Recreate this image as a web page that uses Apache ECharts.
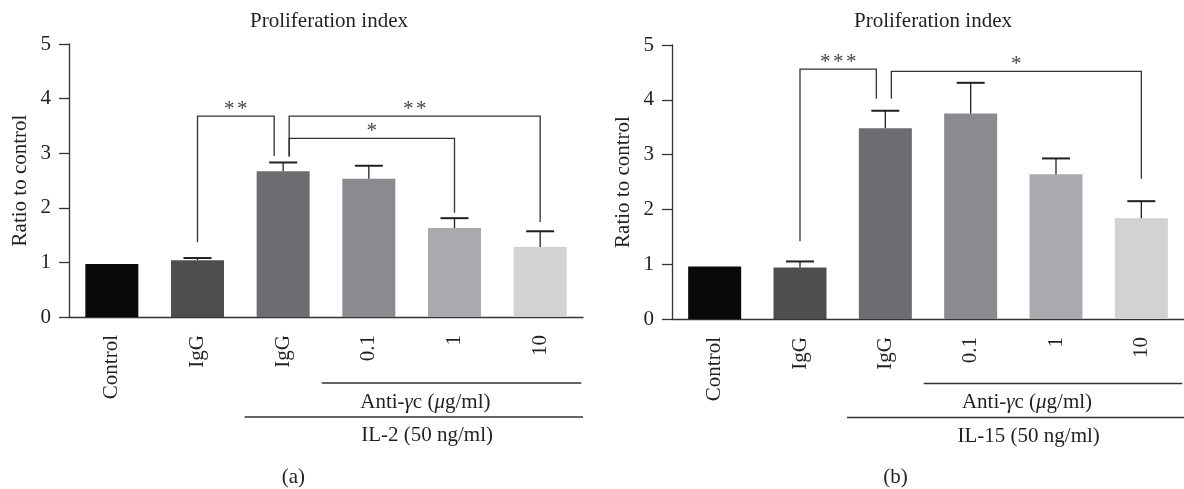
<!DOCTYPE html>
<html>
<head>
<meta charset="utf-8">
<title>Proliferation index</title>
<script src="https://cdn.jsdelivr.net/npm/echarts@6/dist/echarts.min.js"></script>
<style>
  html, body { margin: 0; padding: 0; background: #fff; }
  #chart { width: 1184px; height: 489px; }
</style>
</head>
<body>
<div id="chart"></div>
<script>
var categories = ['Control', 'IgG', 'IgG', '0.1', '1', '10']
var barColors = ['#090909', '#4d4e50', '#6c6d71', '#8a8b8f', '#a9aaad', '#d1d2d4']

// (a) IL-2
var il2Mean = [0.97, 1.04, 2.67, 2.53, 1.63, 1.28]
var il2Err = [0, 0.04, 0.16, 0.24, 0.18, 0.29]
// (b) IL-15
var il15Mean = [0.96, 0.94, 3.48, 3.75, 2.64, 1.84]
var il15Err = [0, 0.11, 0.32, 0.56, 0.29, 0.31]

// brackets: [fromBar, toBar, level, footFrom, footTo, stars]
var il2Brackets = [
  [1, 2, 3.68, 1.37, 2.95, '**'],
  [2, 5, 3.68, 2.94, 1.74, '**'],
  [2, 4, 3.27, 2.94, 1.91, '*']
]
var il15Brackets = [
  [1, 2, 4.56, 1.42, 4.02, '***'],
  [2, 5, 4.52, 4.02, 2.56, '*']
]

var FONT = "'Liberation Serif', 'DejaVu Serif', serif"
var INK = '#231f20'
var LINE = '#333333'
var HUB = 2 // the IgG + cytokine bar that the brackets share

var chart = echarts.init(document.getElementById('chart'))

function xAxisOpt(gridIndex) {
  return {
    type: 'category',
    gridIndex: gridIndex,
    data: categories,
    axisLine: { lineStyle: { color: LINE, width: 1.3 } },
    axisTick: { alignWithLabel: true, length: 8, lineStyle: { color: LINE, width: 1.3 } },
    axisLabel: { rotate: 90, margin: 18, fontSize: 21, fontFamily: FONT, color: INK }
  }
}

function yAxisOpt(gridIndex) {
  return {
    type: 'value',
    gridIndex: gridIndex,
    min: 0,
    max: 5,
    interval: 1,
    name: 'Ratio to control',
    nameLocation: 'middle',
    nameGap: 38,
    nameTextStyle: { fontSize: 21, fontFamily: FONT, color: INK },
    splitLine: { show: false },
    axisLine: { show: true, lineStyle: { color: LINE, width: 1.3 } },
    axisTick: { show: true, length: 10, lineStyle: { color: LINE, width: 1.3 } },
    axisLabel: { margin: 18, fontSize: 21, fontFamily: FONT, color: INK }
  }
}

function barSeries(idx, mean) {
  return {
    type: 'bar',
    xAxisIndex: idx,
    yAxisIndex: idx,
    barWidth: 53,
    data: mean,
    itemStyle: {
      color: function(p) {
        return barColors[p.dataIndex]
      }
    }
  }
}

function errSeries(idx, mean, err) {
  return {
    type: 'custom',
    xAxisIndex: idx,
    yAxisIndex: idx,
    z: 3,
    encode: { x: 0, y: 1 },
    data: mean.map(function(v, i) { return [i, v, err[i]] }),
    renderItem: function(params, api) {
      var e = api.value(2)
      if (!e) return
      var base = api.coord([api.value(0), api.value(1)])
      var top = api.coord([api.value(0), api.value(1) + e])
      return {
        type: 'group',
        children: [
          { type: 'line', shape: { x1: base[0], y1: base[1], x2: top[0], y2: top[1] },
            style: { stroke: INK, lineWidth: 1.3 } },
          { type: 'line', shape: { x1: top[0] - 14, y1: top[1], x2: top[0] + 14, y2: top[1] },
            style: { stroke: INK, lineWidth: 2 } }
        ]
      }
    }
  }
}

function bracketSeries(idx, brackets) {
  return {
    type: 'custom',
    xAxisIndex: idx,
    yAxisIndex: idx,
    z: 4,
    encode: { x: 0, y: 2 },
    data: brackets.map(function(b) { return b.slice(0, 5) }),
    renderItem: function(params, api) {
      var b = brackets[params.dataIndex]
      var from = b[0], to = b[1]
      var p1 = api.coord([from, b[2]])
      var p2 = api.coord([to, b[2]])
      var f1 = api.coord([from, b[3]])
      var f2 = api.coord([to, b[4]])
      // nudge the ends that meet on the shared bar apart
      var dx1 = from === HUB ? 6 : 0
      var dx2 = to === HUB ? -9 : 0
      var x1 = p1[0] + dx1, x2 = p2[0] + dx2, y = p1[1]
      var stroke = { stroke: LINE, lineWidth: 1.3, fill: null }
      var kids = [
        { type: 'polyline', shape: { points: [[x1, f1[1]], [x1, y], [x2, y], [x2, f2[1]]] }, style: stroke }
      ]
      var n = b[5].length
      var mid = (x1 + x2) / 2
      for (var i = 0; i < n; i++) {
        kids.push({
          type: 'text',
          x: mid + (i - (n - 1) / 2) * 13,
          y: y - 7,
          style: { text: '*', fontSize: 21, fontFamily: FONT, fill: '#444', align: 'center', verticalAlign: 'middle' }
        })
      }
      return { type: 'group', children: kids }
    }
  }
}

chart.setOption({
  animation: false,
  backgroundColor: '#fff',
  title: [
    { text: 'Proliferation index', left: 324, top: 6, textAlign: 'center',
      textStyle: { fontSize: 21, fontWeight: 'normal', fontFamily: FONT, color: INK } },
    { text: 'Proliferation index', left: 928, top: 6, textAlign: 'center',
      textStyle: { fontSize: 21, fontWeight: 'normal', fontFamily: FONT, color: INK } }
  ],
  grid: [
    { left: 69, top: 44, width: 514, height: 273 },
    { left: 672, top: 45, width: 513, height: 274 }
  ],
  xAxis: [xAxisOpt(0), xAxisOpt(1)],
  yAxis: [yAxisOpt(0), yAxisOpt(1)],
  series: [
    barSeries(0, il2Mean),
    errSeries(0, il2Mean, il2Err),
    bracketSeries(0, il2Brackets),
    barSeries(1, il15Mean),
    errSeries(1, il15Mean, il15Err),
    bracketSeries(1, il15Brackets)
  ]
})

// group labels under the category axis, placed in category units
function catX(axisIdx, pos) {
  var a = chart.convertToPixel({ xAxisIndex: axisIdx }, 0)
  var b = chart.convertToPixel({ xAxisIndex: axisIdx }, 1)
  return a + pos * (b - a)
}

var rich = {
  n: { fontSize: 21, fontFamily: FONT, color: INK },
  i: { fontSize: 21, fontFamily: FONT, fontStyle: 'italic', color: INK }
}

function groupLabels(axisIdx, cytokine, panel, yShift) {
  var lineStyle = { stroke: LINE, lineWidth: 1.3 }
  var txt = function(x, y, s) {
    return { type: 'text', x: x, y: y,
      style: { text: s, rich: rich, fontSize: 21, fontFamily: FONT, fill: INK, align: 'center', verticalAlign: 'middle' } }
  }
  return [
    { type: 'line', shape: { x1: catX(axisIdx, 2.45), y1: 383 + yShift, x2: catX(axisIdx, 5.48), y2: 383 + yShift }, style: lineStyle },
    txt(catX(axisIdx, 3.66), 402 + yShift, '{n|Anti-}{i|γ}{n|c (}{i|μ}{n|g/ml)}'),
    { type: 'line', shape: { x1: catX(axisIdx, 1.55), y1: 417 + yShift, x2: catX(axisIdx, 5.5), y2: 417 + yShift }, style: lineStyle },
    txt(catX(axisIdx, 3.68), 435.5 + yShift, '{n|' + cytokine + ' (50 ng/ml)}'),
    txt(catX(axisIdx, 2.12), 477.5, '{n|(' + panel + ')}')
  ]
}

chart.setOption({
  graphic: groupLabels(0, 'IL-2', 'a', 0).concat(groupLabels(1, 'IL-15', 'b', 0.5))
})
</script>
</body>
</html>
